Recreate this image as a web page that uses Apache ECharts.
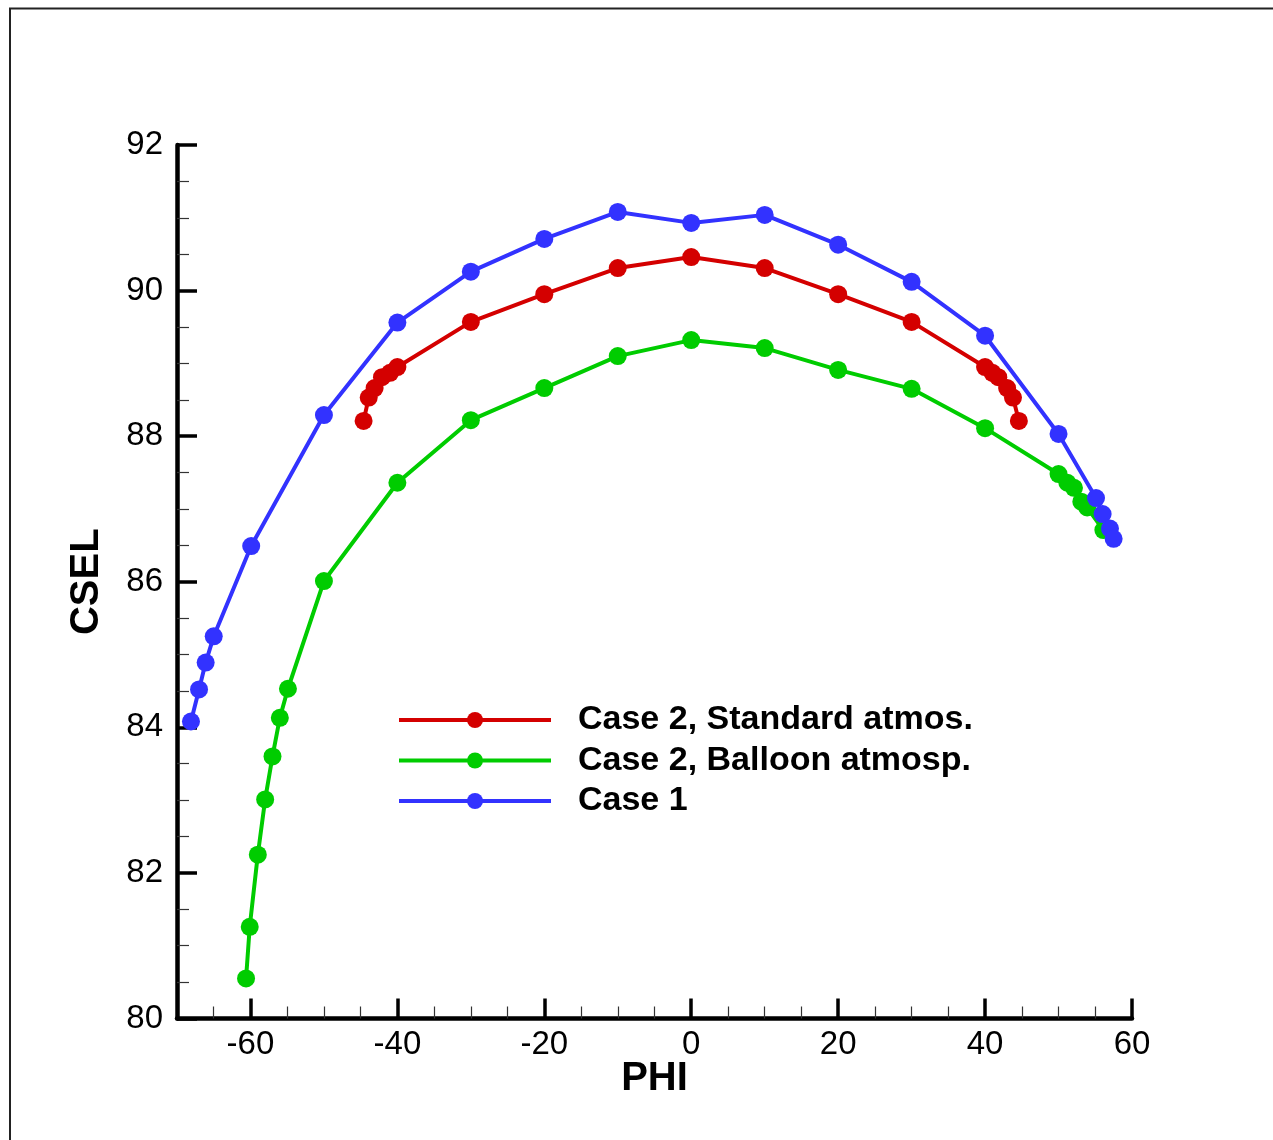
<!DOCTYPE html>
<html>
<head>
<meta charset="utf-8">
<script src="https://cdn.jsdelivr.net/npm/echarts@6/dist/echarts.min.js"></script>
<style>
html,body{margin:0;padding:0;background:#fff;}
#chart{width:1273px;height:1140px;}
</style>
</head>
<body>
<div id="chart"></div>
<script>
// ---- data ----
const seriesNames = ['Case 2, Standard atmos.', 'Case 2, Balloon atmosp.', 'Case 1'];

const stdPhi  = [-44.6, -43.9, -43.1, -42.1, -41.0, -40, -30, -20, -10, 0, 10, 20, 30, 40, 41.0, 41.8, 43.0, 43.8, 44.6];
const stdCsel = [88.21, 88.53, 88.66, 88.81, 88.87, 88.95, 89.57, 89.95, 90.31, 90.46, 90.31, 89.95, 89.57, 88.95, 88.87, 88.81, 88.66, 88.53, 88.21];

const balPhi  = [-60.6, -60.1, -59.0, -58.0, -57.0, -56.0, -54.9, -50, -40, -30, -20, -10, 0, 10, 20, 30, 40, 50, 51.2, 52.1, 53.1, 53.9, 56.1];
const balCsel = [80.55, 81.26, 82.25, 83.01, 83.60, 84.13, 84.53, 86.01, 87.36, 88.22, 88.66, 89.10, 89.32, 89.21, 88.91, 88.65, 88.11, 87.48, 87.36, 87.29, 87.10, 87.02, 86.71];

const c1Phi  = [-68.1, -67.0, -66.1, -65.0, -59.9, -50, -40, -30, -20, -10, 0, 10, 20, 30, 40, 50, 55.1, 56.0, 57.0, 57.5];
const c1Csel = [84.08, 84.52, 84.89, 85.25, 86.49, 88.29, 89.56, 90.26, 90.71, 91.08, 90.93, 91.04, 90.63, 90.12, 89.38, 88.03, 87.15, 86.93, 86.73, 86.59];

const xMajorTicks = [-60, -40, -20, 0, 20, 40, 60];
const xMinorTicks = [-65, -55, -50, -45, -35, -30, -25, -15, -10, -5, 5, 10, 15, 25, 30, 35, 45, 50, 55];

const colors = ['#d40000', '#00cc00', '#3232ff'];

function pairs(xs, ys) { return xs.map((x, i) => [x, ys[i]]); }

const chart = echarts.init(document.getElementById('chart'), null, {renderer: 'canvas'});
const FONT = 'Liberation Sans, Arial, Helvetica, sans-serif';

function mkSeries(name, data, color) {
  return {
    name: name, type: 'line', xAxisIndex: 0, yAxisIndex: 0,
    data: data, symbol: 'circle', symbolSize: 18, showAllSymbol: true,
    lineStyle: {color: color, width: 4},
    itemStyle: {color: color},
    emphasis: {disabled: true}, z: 3
  };
}

chart.setOption({
  animation: false,
  backgroundColor: '#ffffff',
  textStyle: {fontFamily: FONT},
  graphic: [{
    type: 'rect', x: 0, y: 0, z: 0, silent: true,
    shape: {x: 10, y: 8.5, width: 1300, height: 1200},
    style: {fill: 'none', stroke: '#222', lineWidth: 2}
  }],
  grid: {left: 177, right: 141, top: 145, bottom: 121.5, containLabel: false},
  legend: {
    orient: 'vertical', left: 397, top: 703, padding: 0,
    itemWidth: 152, itemHeight: 20, itemGap: 6.5,
    data: seriesNames,
    lineStyle: {width: 4},
    textStyle: {fontSize: 34, fontWeight: 'bold', color: '#000', fontFamily: FONT, lineHeight: 34, padding: [0, 0, 0, 22]}
  },
  xAxis: [{
    type: 'value', min: -70, max: 60, position: 'bottom',
    name: 'PHI', nameLocation: 'middle', nameGap: 40, nameMoveOverlap: false,
    nameTextStyle: {fontSize: 40, fontWeight: 'bold', color: '#000', fontFamily: FONT},
    axisLine: {show: true, onZero: false, lineStyle: {color: '#000', width: 4.5}},
    axisTick: {show: true, inside: true, length: 20, customValues: xMajorTicks, lineStyle: {color: '#000', width: 3.5}},
    axisLabel: {show: true, customValues: xMajorTicks, fontSize: 33, color: '#000', margin: 10, fontFamily: FONT},
    splitLine: {show: false}
  }, {
    type: 'value', min: -70, max: 60, position: 'bottom', gridIndex: 0,
    axisLine: {show: false},
    axisTick: {show: true, inside: true, length: 12, customValues: xMinorTicks, lineStyle: {color: '#333', width: 1.2}},
    axisLabel: {show: false},
    splitLine: {show: false}
  }],
  yAxis: [{
    type: 'value', min: 80, max: 92, interval: 2, position: 'left',
    name: 'CSEL', nameLocation: 'middle', nameGap: 70, nameRotate: 90, nameMoveOverlap: false,
    nameTextStyle: {fontSize: 40, fontWeight: 'bold', color: '#000', fontFamily: FONT},
    axisLine: {show: true, onZero: false, lineStyle: {color: '#000', width: 4.5}},
    axisTick: {show: true, inside: true, length: 20, lineStyle: {color: '#000', width: 3.5}},
    minorTick: {show: true, splitNumber: 4, length: 12, lineStyle: {color: '#333', width: 1.2}},
    axisLabel: {fontSize: 33, color: '#000', margin: 14, fontFamily: FONT, padding: [3, 0, 0, 0]},
    splitLine: {show: false}
  }],
  series: [
    mkSeries(seriesNames[0], pairs(stdPhi, stdCsel), colors[0]),
    mkSeries(seriesNames[1], pairs(balPhi, balCsel), colors[1]),
    mkSeries(seriesNames[2], pairs(c1Phi, c1Csel), colors[2])
  ]
});
</script>
</body>
</html>
